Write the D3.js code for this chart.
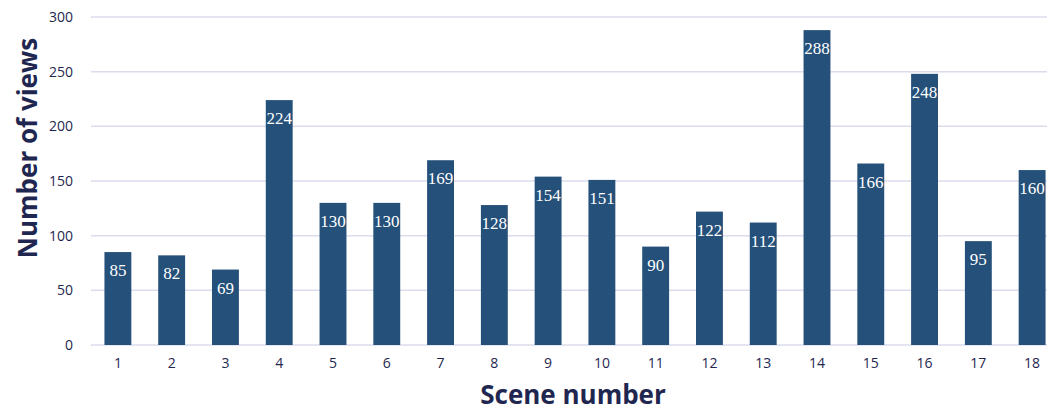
<!DOCTYPE html>
<html>
<head>
<meta charset="utf-8">
<script src="https://cdn.jsdelivr.net/npm/d3@7"></script>
<style>
  html, body { margin: 0; padding: 0; background: #fff; }
  svg { display: block; }
</style>
</head>
<body>
<svg id="chart" width="1050" height="411"></svg>
<script>
// Views per scene
const scenes = ["1","2","3","4","5","6","7","8","9","10","11","12","13","14","15","16","17","18"];
const views = [85, 82, 69, 224, 130, 130, 169, 128, 154, 151, 90, 122, 112, 288, 166, 248, 95, 160];
const yTicks = [0, 50, 100, 150, 200, 250, 300];

const svg = d3.select("#chart");
const W = 1050, H = 411;
const plotLeft = 91, plotRight = 1059, plotTop = 17, plotBottom = 345;
const gridRight = 1047;

const x = d3.scaleBand().domain(scenes).range([plotLeft, plotRight]).paddingInner(0.5).paddingOuter(0.25);
const y = d3.scaleLinear().domain([0, 300]).range([plotBottom, plotTop]);

const navy = "#1f2750";
const barColor = "#255079";

// Horizontal gridlines
svg.append("g")
  .selectAll("line")
  .data(yTicks)
  .join("line")
  .attr("x1", plotLeft)
  .attr("x2", gridRight)
  .attr("y1", d => y(d))
  .attr("y2", d => y(d))
  .attr("stroke", "#dcdcee")
  .attr("stroke-width", 1.5);

// Y tick labels
const yAxis = svg.append("g")
  .attr("transform", `translate(${plotLeft - 18},0)`)
  .call(d3.axisLeft(y).tickValues(yTicks).tickSize(0).tickPadding(0));
yAxis.select(".domain").remove();
yAxis.selectAll("text")
  .attr("font-family", "'Open Sans', 'DejaVu Sans', sans-serif")
  .attr("font-size", 14)
  .attr("fill", navy);

// X tick labels
const xAxis = svg.append("g")
  .attr("transform", `translate(0,${plotBottom + 13})`)
  .call(d3.axisBottom(x).tickSize(0).tickPadding(0));
xAxis.select(".domain").remove();
xAxis.selectAll("text")
  .attr("font-family", "'Open Sans', 'DejaVu Sans', sans-serif")
  .attr("font-size", 14)
  .attr("fill", navy);

// Bars
svg.append("g")
  .selectAll("rect")
  .data(scenes)
  .join("rect")
  .attr("x", d => x(d))
  .attr("width", x.bandwidth())
  .attr("y", (d, i) => y(views[i]))
  .attr("height", (d, i) => y(0) - y(views[i]))
  .attr("fill", barColor);

// Value labels inside the bars
svg.append("g")
  .selectAll("text")
  .data(scenes)
  .join("text")
  .attr("x", d => x(d) + x.bandwidth() / 2)
  .attr("y", (d, i) => y(views[i]) + 24)
  .attr("text-anchor", "middle")
  .attr("font-family", "'Liberation Serif', 'DejaVu Serif', serif")
  .attr("font-size", 17)
  .attr("fill", "#ffffff")
  .text((d, i) => views[i]);

// Axis titles
svg.append("text")
  .attr("x", 573)
  .attr("y", 404)
  .attr("text-anchor", "middle")
  .attr("font-family", "'Open Sans', 'DejaVu Sans', sans-serif")
  .attr("font-weight", "bold")
  .attr("font-size", 26)
  .attr("fill", navy)
  .text("Scene number");

svg.append("text")
  .attr("transform", `translate(37,148) rotate(-90)`)
  .attr("text-anchor", "middle")
  .attr("font-family", "'Open Sans', 'DejaVu Sans', sans-serif")
  .attr("font-weight", "bold")
  .attr("font-size", 26)
  .attr("fill", navy)
  .text("Number of views");
</script>
</body>
</html>
